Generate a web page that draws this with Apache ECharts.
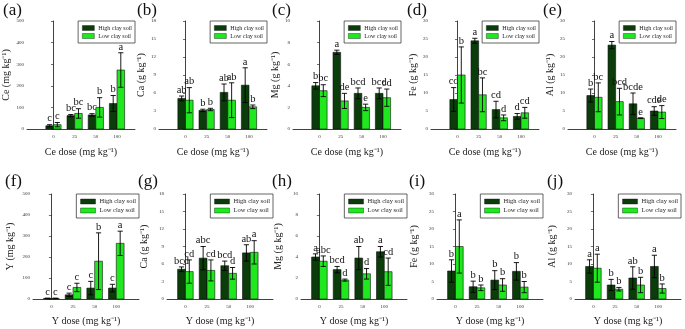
<!DOCTYPE html>
<html><head><meta charset="utf-8">
<script src="https://cdn.jsdelivr.net/npm/echarts@6/dist/echarts.min.js"></script>
<style>html,body{margin:0;padding:0;background:#fff}#c{width:685px;height:329px}</style>
</head><body><div id="c"></div>
<script>
const doses = ['0', '25', '50', '100'];
const seriesNames = ['High clay soil', 'Low clay soil'];

// (a) Ce, Ce dose
const aHigh = [15, 62, 65, 118], aHighErr = [5, 5, 6, 37], aLow = [20, 72, 100, 273], aLowErr = [10, 22, 45, 80];
const aHighLet = ['c', 'bc', 'bc', 'b'], aLowLet = ['c', 'bc', 'b', 'a'];
// (b) Ca, Ce dose
const bHigh = [5.1, 3.1, 6.1, 7.3], bHighErr = [0.4, 0.2, 1.4, 2.9], bLow = [4.8, 3.25, 4.8, 3.7], bLowErr = [2.1, 0.2, 2.9, 0.3];
const bHighLet = ['ab', 'b', 'ab', 'a'], bLowLet = ['ab', 'b', 'ab', 'b'];
// (c) Mg, Ce dose
const cHigh = [4.0, 7.1, 3.3, 3.3], cHighErr = [0.3, 0.2, 0.5, 0.5], cLow = [3.55, 2.6, 2.0, 2.9], cLowErr = [0.55, 0.7, 0.3, 0.8];
const cHighLet = ['b', 'a', 'bcd', 'bcd'], cLowLet = ['bc', 'de', 'e', 'cd'];
// (d) Fe, Ce dose
const dHigh = [8.2, 24.5, 5.4, 3.5], dHighErr = [3.3, 0.7, 2.3, 0.8], dLow = [15.0, 9.5, 3.1, 4.5], dLowErr = [7.8, 4.7, 0.8, 1.5];
const dHighLet = ['cd', 'a', 'cd', 'd'], dLowLet = ['b', 'bc', 'd', 'cd'];
// (e) Al, Ce dose
const eHigh = [9.3, 23.3, 7.0, 5.0], eHighErr = [1.8, 1.0, 3.0, 1.2], eLow = [8.8, 7.6, 3.0, 4.7], eLowErr = [4.0, 3.7, 0.1, 1.8];
const eHighLet = ['b', 'a', 'bcde', 'cde'], eLowLet = ['bc', 'bcd', 'e', 'de'];
// (f) Y, Y dose
const fHigh = [3, 20, 52, 52], fHighErr = [1, 8, 32, 18], fLow = [3, 55, 180, 265], fLowErr = [1, 20, 135, 58];
const fHighLet = ['c', 'c', 'c', 'c'], fLowLet = ['c', 'c', 'b', 'a'];
// (g) Ca, Y dose
const gHigh = [5.1, 7.0, 5.7, 7.9], gHighErr = [0.4, 2.0, 0.8, 1.4], gLow = [4.7, 4.9, 4.4, 8.0], gLowErr = [2.0, 1.8, 1.0, 2.0];
const gHighLet = ['bcd', 'abc', 'bcd', 'ab'], gLowLet = ['cd', 'cd', 'd', 'a'];
// (h) Mg, Y dose
const hHigh = [4.0, 2.8, 3.9, 4.5], hHighErr = [0.3, 0.3, 1.1, 0.5], hLow = [3.6, 1.8, 2.4, 2.6], hLowErr = [0.5, 0.1, 0.5, 1.3];
const hHighLet = ['a', 'bcd', 'ab', 'a'], hLowLet = ['abc', 'd', 'd', 'cd'];
// (i) Fe, Y dose
const iHigh = [8.0, 3.5, 5.4, 7.9], iHighErr = [3.2, 1.6, 2.7, 2.5], iLow = [15.0, 3.2, 4.0, 3.4], iLowErr = [7.6, 0.8, 1.8, 1.6];
const iHighLet = ['b', 'b', 'b', 'b'], iLowLet = ['a', 'b', 'b', 'b'];
// (j) Al, Y dose
const jHigh = [9.3, 4.0, 6.0, 9.3], jHighErr = [1.9, 1.6, 3.2, 3.2], jLow = [8.8, 2.8, 4.0, 3.0], jLowErr = [4.0, 0.5, 2.2, 1.3];
const jHighLet = ['a', 'b', 'ab', 'a'], jLowLet = ['a', 'b', 'b', 'b'];

const panelTags = ['(a)', '(b)', '(c)', '(d)', '(e)', '(f)', '(g)', '(h)', '(i)', '(j)'];
const yNames = ['Ce', 'Ca', 'Mg', 'Fe', 'Al', 'Y', 'Ca', 'Mg', 'Fe', 'Al'];
const yUnits = ['mg', 'g', 'g', 'g', 'g', 'mg', 'g', 'g', 'g', 'g'];
const yMax = [500, 18, 10, 30, 30, 500, 18, 10, 30, 30];
const yStep = [100, 3, 2, 5, 5, 100, 3, 2, 5, 5];
const xNames = ['Ce', 'Ce', 'Ce', 'Ce', 'Ce', 'Y', 'Y', 'Y', 'Y', 'Y'];

const panels = [
  [aHigh, aHighErr, aLow, aLowErr, aHighLet, aLowLet],
  [bHigh, bHighErr, bLow, bLowErr, bHighLet, bLowLet],
  [cHigh, cHighErr, cLow, cLowErr, cHighLet, cLowLet],
  [dHigh, dHighErr, dLow, dLowErr, dHighLet, dLowLet],
  [eHigh, eHighErr, eLow, eLowErr, eHighLet, eLowLet],
  [fHigh, fHighErr, fLow, fLowErr, fHighLet, fLowLet],
  [gHigh, gHighErr, gLow, gLowErr, gHighLet, gLowLet],
  [hHigh, hHighErr, hLow, hLowErr, hHighLet, hLowLet],
  [iHigh, iHighErr, iLow, iLowErr, iHighLet, iLowLet],
  [jHigh, jHighErr, jLow, jLowErr, jHighLet, jLowLet]
];

const FONT = '"Liberation Serif", "Times New Roman", serif';
const DARK = '#0b3d0b', LIGHT = '#1fe81f';
const rowLefts = [[27, 159, 293, 431, 568], [33, 167, 301, 437, 575]];
const rowW = [108, 106];
const rowXMin = [-1.25, -0.85], rowXMax = [3.85, 4.05];
const rowTop = [21, 194], rowH = [108, 105];
const yNameGap = [16, 13, 13, 13, 13, 18, 18, 18, 18, 18];
const tagPos = [[3, 2], [137, 2], [272, 2], [407, 2], [543, 2], [5, 173], [138, 173], [272, 173], [409, 173], [547, 173]];

function makeRender(side, letters, color) {
  return function (params, api) {
    const x = api.value(0), v = api.value(1), e = api.value(2);
    const base = api.coord([x, 0]);
    const top = api.coord([x, v]);
    const unit = api.size([1, 0])[0];
    const bw = unit * 0.36;
    const x0 = side < 0 ? base[0] - bw : base[0];
    const cx = x0 + bw / 2;
    const eTop = api.coord([x, v + e])[1];
    const eBot = api.coord([x, Math.max(v - e, 0)])[1];
    const cap = 2.6;
    const ls = { stroke: '#000', lineWidth: 0.9 };
    return {
      type: 'group',
      children: [
        { type: 'rect', shape: { x: x0, y: top[1], width: bw, height: base[1] - top[1] }, style: { fill: color, stroke: '#111', lineWidth: 0.6 } },
        { type: 'line', shape: { x1: cx, y1: eBot, x2: cx, y2: eTop }, style: ls },
        { type: 'line', shape: { x1: cx - cap, y1: eTop, x2: cx + cap, y2: eTop }, style: ls },
        { type: 'line', shape: { x1: cx - cap, y1: eBot, x2: cx + cap, y2: eBot }, style: ls },
        { type: 'text', style: { text: letters[params.dataIndex], x: cx, y: eTop - 0.5, textAlign: 'center', textVerticalAlign: 'bottom', font: '10.5px ' + FONT, fill: '#111' } }
      ]
    };
  };
}

const grid = [], xAxis = [], yAxis = [], series = [], legend = [], graphic = [];
panels.forEach((p, k) => {
  const row = k < 5 ? 0 : 1;
  const col = k % 5;
  const left = rowLefts[row][col];
  grid.push({ left: left, top: rowTop[row], width: rowW[row], height: rowH[row] });
  xAxis.push({
    type: 'value', gridIndex: k, min: rowXMin[row], max: rowXMax[row],
    axisLine: { show: true, lineStyle: { color: '#111', width: 0.8 } },
    axisTick: { show: false }, splitLine: { show: false },
    axisLabel: { fontSize: 5, color: '#333', fontFamily: FONT, margin: 5,
      customValues: [0, 1, 2, 3],
      formatter: v => doses[Math.round(v)] },
    name: xNames[k] + ' dose (mg kg\u207B\u00B9)', nameLocation: 'middle', nameGap: row ? 17 : 18,
    nameTextStyle: { fontFamily: FONT, fontSize: 10, color: '#222' }
  });
  yAxis.push({
    type: 'value', gridIndex: k, min: 0, max: yMax[k], interval: yStep[k],
    axisLine: { show: true, lineStyle: { color: '#111', width: 0.8 } },
    axisTick: { show: true, length: 2.5, lineStyle: { color: '#111', width: 0.6 } },
    splitLine: { show: false },
    axisLabel: { fontSize: 5, color: '#333', fontFamily: FONT, margin: 3 },
    name: yNames[k] + ' (' + yUnits[k] + ' kg\u207B\u00B9)', nameLocation: 'middle', nameGap: yNameGap[k], nameRotate: 90,
    nameTextStyle: { fontFamily: FONT, fontSize: 10, color: '#222' }
  });
  const [hi, hiE, lo, loE, hiL, loL] = p;
  series.push({
    type: 'custom', name: seriesNames[0], xAxisIndex: k, yAxisIndex: k,
    itemStyle: { color: DARK }, renderItem: makeRender(-1, hiL, DARK),
    data: hi.map((v, i) => [i, v, hiE[i]]), z: 3
  });
  series.push({
    type: 'custom', name: seriesNames[1], xAxisIndex: k, yAxisIndex: k,
    itemStyle: { color: LIGHT }, renderItem: makeRender(1, loL, LIGHT),
    data: lo.map((v, i) => [i, v, loE[i]]), z: 3
  });
  legend.push({
    data: seriesNames, orient: 'vertical', icon: 'rect',
    right: 685 - (left + rowW[row]), top: rowTop[row],
    itemWidth: row ? 15 : 12, itemHeight: 5, itemGap: 2,
    padding: [4, 3, 4, 4], borderColor: '#222', borderWidth: 0.7, backgroundColor: '#fff',
    textStyle: { fontFamily: FONT, fontSize: row ? 6.5 : 6, color: '#222', padding: [0, 0, 0, -1] },
    itemStyle: { borderColor: '#111', borderWidth: 0.4 },
    selectedMode: false
  });
  graphic.push({ type: 'text', left: tagPos[k][0], top: tagPos[k][1],
    style: { text: panelTags[k], font: '17px ' + FONT, fill: '#111' } });
});

const chart = echarts.init(document.getElementById('c'), null, { renderer: 'canvas' });
chart.setOption({ animation: false, backgroundColor: '#fff', grid, xAxis, yAxis, series, legend, graphic });
</script></body></html>
